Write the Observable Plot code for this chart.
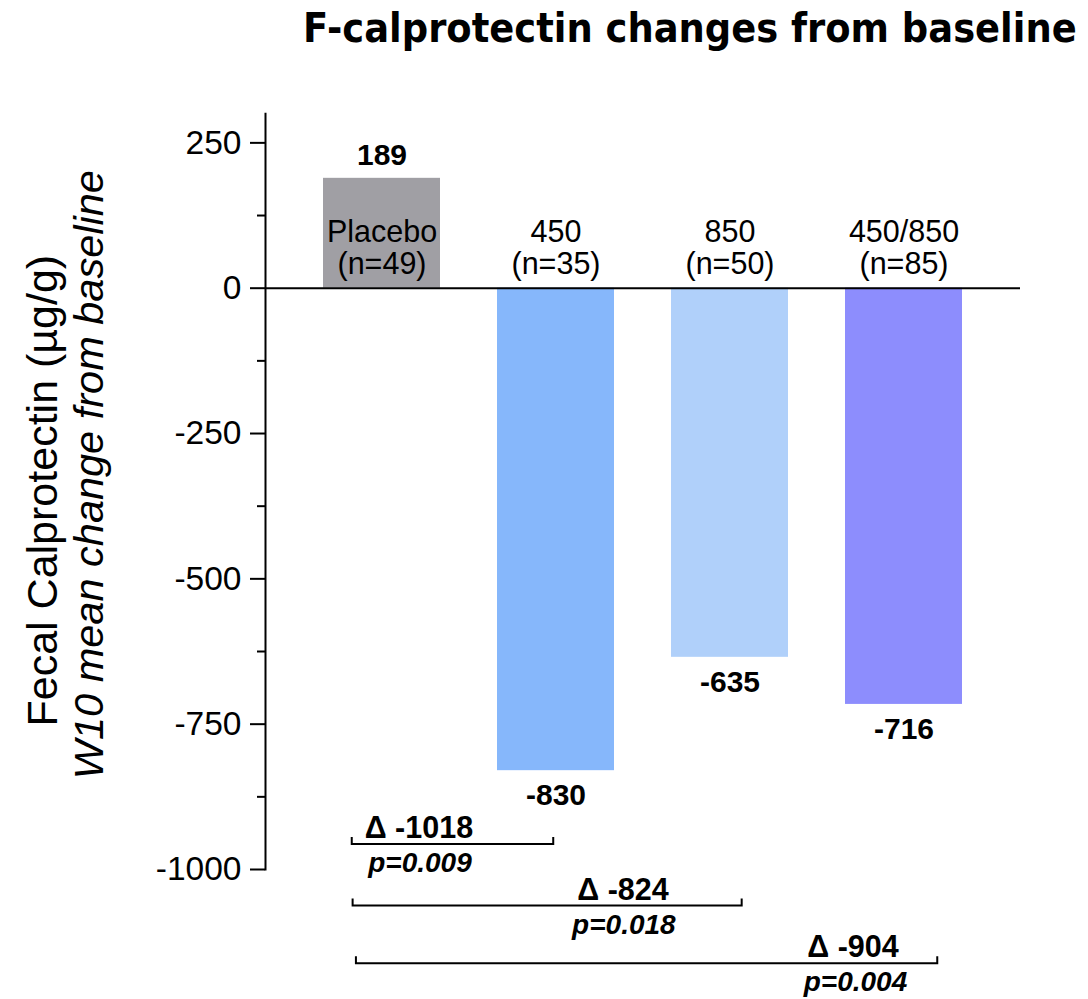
<!DOCTYPE html>
<html>
<head>
<meta charset="utf-8">
<script src="https://cdn.jsdelivr.net/npm/d3@7"></script>
<script src="https://cdn.jsdelivr.net/npm/@observablehq/plot@0.6"></script>
<style>
  body { margin: 0; background: #fff; }
  #title { position: relative; height: 60px; width: 1088px; overflow: hidden; }
  #title span {
    position: absolute; left: 303px; top: 8px; line-height: 40px;
    font-family: "DejaVu Sans", sans-serif; font-weight: bold; font-size: 40px;
    white-space: nowrap; transform: scaleX(0.922); transform-origin: left center; color: #000;
  }
  #chart svg { display: block; }
</style>
</head>
<body>
<div id="title"><span>F-calprotectin changes from baseline</span></div>
<div id="chart"></div>
<script>
// ---- data ----
const groups = ["Placebo", "450", "850", "450/850"];
const groupN = [49, 35, 50, 85];
const meanChange = [189, -830, -635, -716];
const barColors = ["#a09fa4", "#86b7fb", "#b0d0fa", "#8d8dfd"];
const yTicks = [250, 0, -250, -500, -750, -1000];
const yMinorTicks = [125, -125, -375, -625, -875];
const comparedGroups = ["450", "850", "450/850"];
const deltas = [-1018, -824, -904];
const pValues = ["0.009", "0.018", "0.004"];
const yTitle1 = "Fecal Calprotectin (µg/g)";
const yTitle2 = "W10 mean change from baseline";

// table built from the arrays
const rows = groups.map((g, i) => ({group: g, n: groupN[i], value: meanChange[i], color: barColors[i]}));
const comps = comparedGroups.map((g, i) => ({group: g, delta: deltas[i], p: pValues[i]}));

// annotation layout (band units relative to the Placebo centre, y in data units)
const bracketStart = [-0.171, -0.166, -0.147];
const bracketEnd = [0.987, 2.070, 3.194];
const deltaCenter = [0.215, 1.388, 2.710];
const pCenter = [0.221, 1.393, 2.724];
const bracketLevel = [-957, -1063, -1162];

const FONT = "Liberation Sans, Arial, Helvetica, sans-serif";

function brackets(index, scales) {
  const x = scales.x, y = scales.y;
  const bw = x.bandwidth ? x.bandwidth() : 0;
  const c0 = x(groups[0]) + bw / 2;
  const step = x(groups[1]) - x(groups[0]);
  const g = d3.create("svg:g");
  comps.forEach((c, i) => {
    const yy = y(bracketLevel[i]);
    const xa = c0 + bracketStart[i] * step;
    const xb = c0 + bracketEnd[i] * step;
    g.append("path")
      .attr("d", `M${xa},${yy - 7}V${yy}H${xb}V${yy - 7}`)
      .attr("fill", "none").attr("stroke", "#000").attr("stroke-width", 2);
    g.append("text")
      .attr("x", c0 + deltaCenter[i] * step).attr("y", yy - 6)
      .attr("text-anchor", "middle")
      .attr("font-family", FONT).attr("font-weight", "bold").attr("font-size", 30.5)
      .attr("fill", "#000")
      .text(`Δ ${c.delta}`);
    g.append("text")
      .attr("x", c0 + pCenter[i] * step).attr("y", yy + 28)
      .attr("text-anchor", "middle")
      .attr("font-family", FONT).attr("font-weight", "bold").attr("font-style", "italic").attr("font-size", 28)
      .attr("fill", "#000")
      .text(`p=${c.p}`);
  });
  return g.node();
}

const chart = Plot.plot({
  width: 1088,
  height: 939,
  marginTop: 53.3,
  marginBottom: 130,
  marginLeft: 265,
  marginRight: 68,
  style: {fontFamily: FONT, color: "#000", background: "#fff", overflow: "visible"},
  x: {domain: groups, paddingInner: 0.326, paddingOuter: 0.332, axis: null},
  y: {domain: [-1000, 300], axis: null},
  marks: [
    Plot.barY(rows, {x: "group", y: "value", fill: "color"}),
    Plot.ruleY([0], {stroke: "#000", strokeWidth: 2}),
    Plot.frame({anchor: "left", stroke: "#000", strokeWidth: 2}),
    Plot.axisY({ticks: yTicks, tickSize: 15, tickPadding: 9, fontSize: 33.5, strokeWidth: 2,
      tickFormat: d => String(d), label: null}),
    Plot.axisY({ticks: yMinorTicks, tickSize: 8, strokeWidth: 2, tickFormat: () => "", label: null}),
    Plot.text(rows, {x: "group", y: 0, text: d => `${d.group}\n(n=${d.n})`,
      lineAnchor: "bottom", dy: -14, lineHeight: 1.06, fontSize: 30.5, fill: "#000"}),
    Plot.text(rows.filter(d => d.value >= 0), {x: "group", y: "value", text: d => String(d.value),
      lineAnchor: "bottom", dy: -13, fontSize: 30, fontWeight: "bold", fill: "#000"}),
    Plot.text(rows.filter(d => d.value < 0), {x: "group", y: "value", text: d => String(d.value),
      lineAnchor: "top", dy: 13, fontSize: 30, fontWeight: "bold", fill: "#000"}),
    Plot.text([yTitle1], {frameAnchor: "left", rotate: -90, textAnchor: "middle", dx: -209, dy: -1,
      lineAnchor: "bottom", fontSize: 43, fill: "#000"}),
    Plot.text([yTitle2], {frameAnchor: "left", rotate: -90, textAnchor: "middle", dx: -163, dy: -17,
      lineAnchor: "bottom", fontSize: 41.5, fontStyle: "italic", fill: "#000"}),
    brackets
  ]
});
document.getElementById("chart").appendChild(chart);
</script>
</body>
</html>
